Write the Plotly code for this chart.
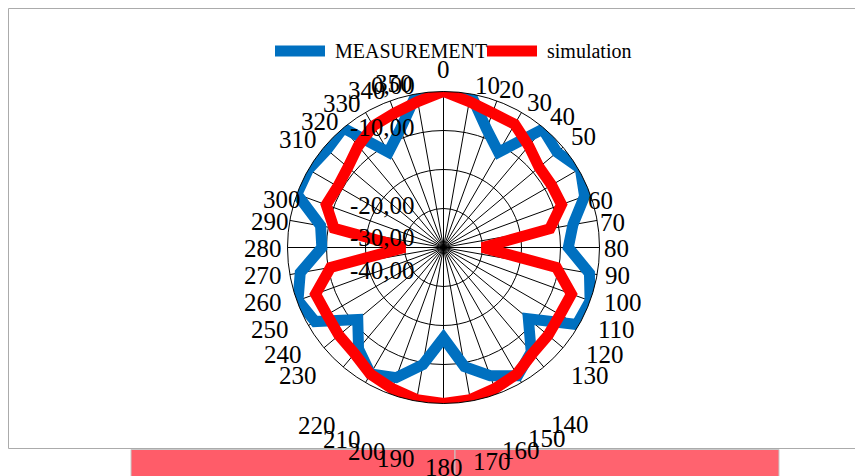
import plotly.graph_objects as go

# ---------------- data ----------------
angles = list(range(0, 360, 10))
measurement = [0, 0, -7.7, -11.8, -0.4, -2, 0.5, -1.5, -6.3, -8,
               -2, 0, -0.5, -11.6, -5, -2, -5, -9, -16.8, -9.5,
               -4.5, -2.6, -6.1, -11.3, -2, -0.3, -2.7, -8.8, -8, 0,
               0, -1, 0, -11.8, -7.7, 0]
simulation = [0, -2, -3.3, -3.5, -6, -8, -8, -7.8, -12.3, -30,
              -10.6, -5.1, -5.5, -5, -4.5, -2.5, -1.5, -0.4, 0, -0.4,
              -1.5, -2.5, -4.5, -5, -5.5, -5.1, -10.6, -30, -11.5, -8,
              -8.7, -8, -6, -4, -3.3, -2]
angle_labels = [str(a) for a in angles]
radial_labels = ["0,00", "-10,00", "-20,00", "-30,00", "-40,00"]
series_names = ["MEASUREMENT", "simulation"]

# ---------------- layout helpers ----------------
# the page body has an 8px margin, so the figure starts at (8, 8) on screen
OFF = 8
W, H = 855, 468
def px(x):
    return (x - OFF) / W
def py(y):
    return 1 - (y - OFF) / H

# label positions (screen pixels) as they appear in the chart
angle_label_pos = [
    (443, 70), (487, 86), (512, 89), (539, 103), (562, 116), (583, 136),
    (600, 200), (612, 223), (616, 249), (617, 275), (623, 302), (616, 329),
    (605, 354), (590, 375), (570, 424), (547, 438), (521, 450), (492, 461),
    (444, 467), (396, 458), (367, 451), (342, 439), (317, 425), (298, 375),
    (283, 354), (270, 329), (263, 302), (263, 275), (263, 249), (270, 222),
    (282, 199), (298, 139), (320, 121), (342, 104), (367, 90), (394, 84)]
radial_label_pos = [(417, 86), (417, 128), (417, 205), (417, 237), (417, 270)]

cx, cy, R = 443.5, 247.5, 156
FONT = "Liberation Serif"
BLUE = "#0070C0"
RED = "#FF0000"

fig = go.Figure()
for vals, name, col in [(measurement, series_names[0], BLUE),
                        (simulation, series_names[1], RED)]:
    fig.add_trace(go.Scatterpolar(
        r=vals + [vals[0]], theta=angles + [angles[0]],
        mode="lines", name=name, cliponaxis=False,
        line=dict(color=col, width=11)))

annotations = []
for lab, (x, y) in zip(angle_labels, angle_label_pos):
    annotations.append(dict(x=px(x), y=py(y), xref="paper", yref="paper",
                            text=lab, showarrow=False, xanchor="center",
                            yanchor="middle",
                            font=dict(family=FONT, size=25, color="#000")))
for lab, (x, y) in zip(radial_labels, radial_label_pos):
    annotations.append(dict(x=px(x), y=py(y), xref="paper", yref="paper",
                            text=lab, showarrow=False, xanchor="right",
                            yanchor="middle",
                            font=dict(family=FONT, size=25, color="#000")))

# legend (manual)
shapes = []
leg = [(275, 325, 333, series_names[0], BLUE), (487, 537, 545, series_names[1], RED)]
for x0, x1, tx, name, col in leg:
    shapes.append(dict(type="line", xref="paper", yref="paper",
                       x0=px(x0), x1=px(x1), y0=py(51), y1=py(51),
                       line=dict(color=col, width=11)))
    annotations.append(dict(x=px(tx), y=py(51), xref="paper", yref="paper",
                            text=name, showarrow=False, xanchor="left",
                            yanchor="middle",
                            font=dict(family=FONT, size=20, color="#000")))

# chart border
shapes.append(dict(type="rect", xref="paper", yref="paper",
                   x0=px(8.5), x1=px(880), y0=py(448.5), y1=py(8.5),
                   line=dict(color="#ABABAB", width=1), fillcolor="rgba(0,0,0,0)",
                   layer="below"))
# pink bar below
shapes.append(dict(type="rect", xref="paper", yref="paper",
                   x0=px(131), x1=px(455), y0=py(490), y1=py(449.5),
                   line=dict(color="#C8C8C8", width=1), fillcolor="#FF5C69",
                   layer="below"))
shapes.append(dict(type="rect", xref="paper", yref="paper",
                   x0=px(455), x1=px(779), y0=py(490), y1=py(449.5),
                   line=dict(color="#C8C8C8", width=1), fillcolor="#FF636F",
                   layer="below"))

fig.update_layout(
    width=W, height=H, margin=dict(l=0, r=0, t=0, b=0),
    paper_bgcolor="white", plot_bgcolor="white", showlegend=False,
    polar=dict(
        domain=dict(x=[px(cx - R), px(cx + R)], y=[py(cy + R), py(cy - R)]),
        bgcolor="white",
        radialaxis=dict(range=[-40, 0], tickmode="linear", tick0=-40, dtick=10,
                        showticklabels=False, ticks="", showline=False,
                        gridcolor="#000", gridwidth=1),
        angularaxis=dict(rotation=90, direction="clockwise", tickmode="linear",
                         tick0=0, dtick=10, showticklabels=False, ticks="",
                         showline=True, linecolor="#000", linewidth=1,
                         gridcolor="#000", gridwidth=1),
    ),
    shapes=shapes, annotations=annotations,
)

fig.write_html("out.html")
